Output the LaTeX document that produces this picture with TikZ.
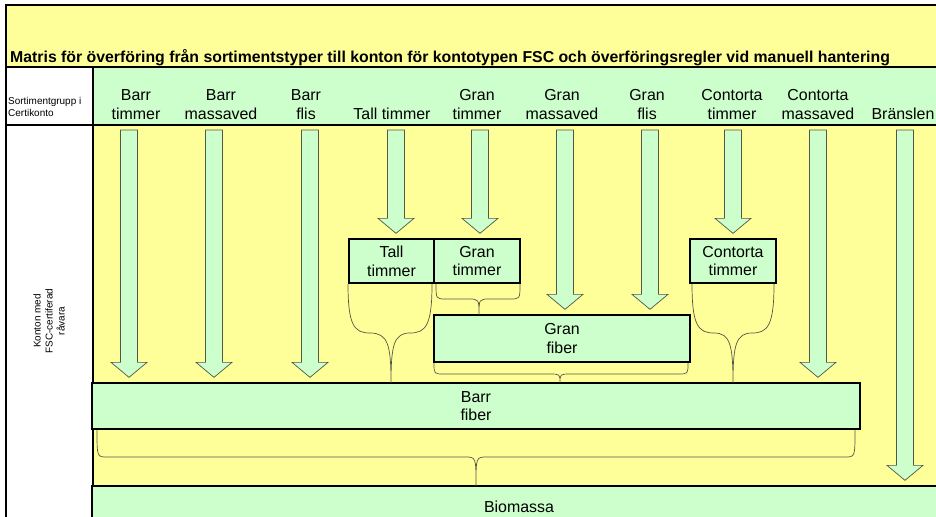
\documentclass[tikz,border=0pt]{standalone}
\usepackage{fontspec}
\setmainfont{Liberation Sans}
\usetikzlibrary{calc}

\definecolor{sheetyellow}{HTML}{FFFF99}
\definecolor{sheetgreen}{HTML}{CCFFCC}
\definecolor{edgegray}{HTML}{55554A}

\begin{document}
\begin{tikzpicture}[x=0.03cm, y=-0.03cm,
    headtext/.style={font=\fontsize{13.6}{16.2}\selectfont, align=center, anchor=south, inner sep=0pt},
    account/.style={draw, line width=1.1pt, fill=sheetgreen, inner sep=0pt, align=center, font=\fontsize{13.6}{16}\selectfont},
    fatarrow/.style={draw=edgegray, fill=sheetgreen, line width=0.6pt},
    curly/.style={draw=edgegray, line width=0.6pt},
    small/.style={font=\fontsize{8.5}{10.2}\selectfont, inner sep=0pt, align=center}]
    \clip (0,0) rectangle (936,517);
    \fill[white] (0,0) rectangle (936,517);
    \fill[sheetyellow] (6,5) rectangle (936,67);
    \fill[sheetgreen] (93,67) rectangle (936,125);
    \fill[sheetyellow] (93,125) rectangle (936,517);
    \draw[line width=1.3pt] (936,5) -- (6,5) -- (6,517);
    \draw[line width=1pt] (6,67) -- (936,67) (6,125) -- (936,125) (93,67) -- (93,517);

    \node[anchor=base west, inner sep=0pt, font=\fontsize{13.5}{16}\selectfont\bfseries] (title) at (10,63)
        {Matris för överföring från sortimentstyper till konton för kontotypen FSC och överföringsregler vid manuell hantering};
    \node[small, align=left, anchor=south west] (corner) at (8,117) {Sortimentgrupp i\\Certikonto};
    \node[small, rotate=90] (konton) at (49,321) {Konton med\\FSC-certiferad\\råvara};

    \foreach \x/\name/\txt in {136/barrtim/{Barr\\timmer}, 221/barrmas/{Barr\\massaved}, 306/barrflis/{Barr\\flis},
        392/talltim/{Tall timmer}, 477/grantim/{Gran\\timmer}, 562/granmas/{Gran\\massaved}, 647/granflis/{Gran\\flis},
        732/contim/{Contorta\\timmer}, 818/conmas/{Contorta\\massaved}, 903/branslen/{Bränslen}} {
        \node[headtext] (\name) at (\x,120) {\txt};
    }

    \node[account, minimum width=85*0.03cm, minimum height=44*0.03cm] (tallbox) at (391.5,261) {Tall\\timmer};
    \node[account, minimum width=86*0.03cm, minimum height=44*0.03cm] (granbox) at (477,261) {Gran\\timmer};
    \node[account, minimum width=86*0.03cm, minimum height=44*0.03cm] (contbox) at (733,261) {Contorta\\timmer};
    \node[account, minimum width=256*0.03cm, minimum height=47*0.03cm] (granfiber) at (562,338.5) {Gran\\fiber};
    \node[account, minimum width=768*0.03cm, minimum height=46*0.03cm] (barrfiber) at (476,406) {Barr\\fiber};
    \node[account, minimum width=854*0.03cm, minimum height=42*0.03cm] (biomassa) at (519,507) {Biomassa};

    \foreach \x/\dest in {129/barrfiber, 214/barrfiber, 310/barrfiber, 396/tallbox, 480/granbox,
        565/granfiber, 650/granfiber, 733/contbox, 818/barrfiber, 905/biomassa} {
        \path (\x,0 |- \dest.north) ++(0,-5) coordinate (tip);
        \draw[fatarrow] (\x-8.5,130) -- ($(tip)+(-8.5,-15)$) -- ($(tip)+(-18,-15)$) -- (tip)
            -- ($(tip)+(18,-15)$) -- ($(tip)+(8.5,-15)$) -- (\x+8.5,130) -- cycle;
    }

    \foreach \l/\r/\t/\m/\c/\b in {436/520/284/299/479/315, 434/688/363/374/560/383, 97/855/430/457/476/486} {
        \draw[curly] (\l,\t) .. controls (\l,\m) .. (\l+10,\m) -- (\c-11,\m) .. controls (\c,\m) .. (\c,\b)
            .. controls (\c,\m) .. (\c+11,\m) -- (\r-10,\m) .. controls (\r,\m) .. (\r,\t);
    }

    \foreach \l/\r/\c in {348/432/391, 692/774/733} {
        \draw[curly] (\l,284) .. controls (\l,325) and (\l+6,333) .. (\l+22,333) .. controls (\c-3,333) and (\c,345) .. (\c,383)
            .. controls (\c,345) and (\c+3,333) .. (\r-22,333) .. controls (\r-6,333) and (\r,325) .. (\r,284);
    }
\end{tikzpicture}
\end{document}
